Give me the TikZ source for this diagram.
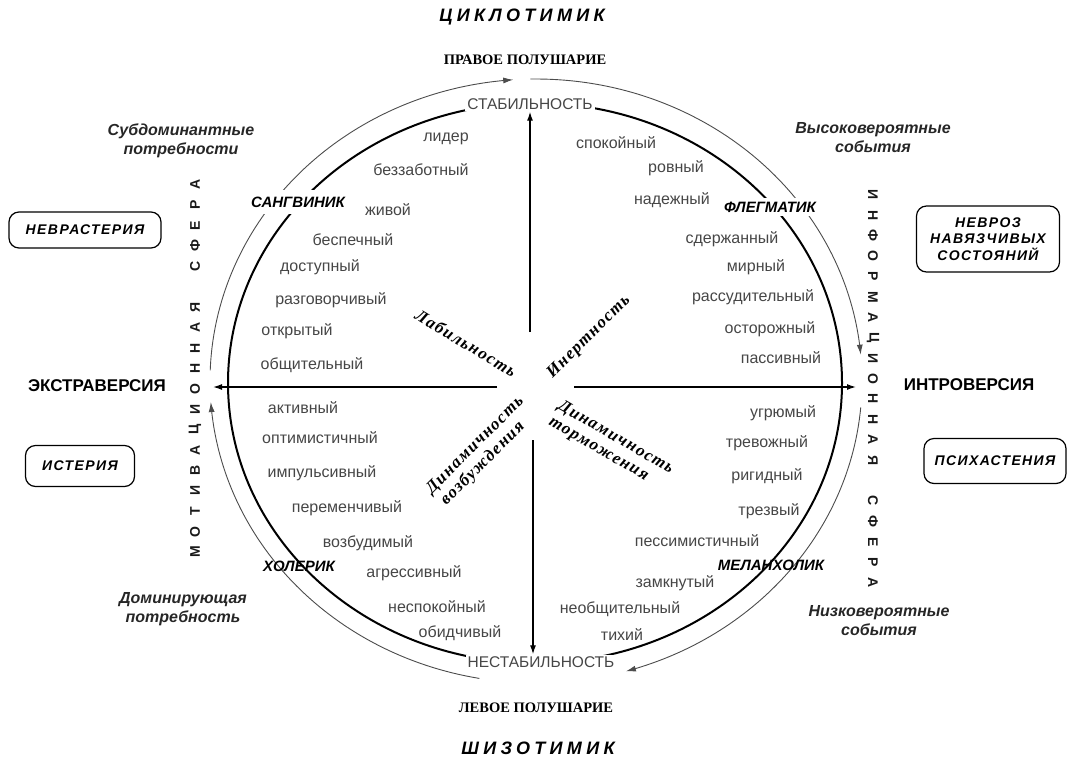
\documentclass[tikz,border=0pt]{standalone}
\usepackage{fontspec}
\setmainfont{Liberation Sans}
\newfontfamily\serifff{Liberation Serif}
\newfontfamily\serifsp[LetterSpace=8]{Liberation Serif}
\newfontfamily\widesp[LetterSpace=24]{Liberation Sans}
\newfontfamily\boxsp[LetterSpace=10]{Liberation Sans}
\usetikzlibrary{arrows.meta}
\definecolor{wordgray}{RGB}{70,70,70}
\begin{document}
\begin{tikzpicture}[x=1pt,y=-1pt,
  word/.style={font=\fontsize{16}{18}\selectfont, text=wordgray, inner sep=1pt},
  typelbl/.style={font=\fontsize{15}{17}\selectfont\bfseries\itshape, inner sep=1pt},
  typew/.style={typelbl, fill=white, inner xsep=2pt},
  axlbl/.style={font=\fontsize{17}{19}\selectfont\bfseries},
  dbox/.style={draw, rounded corners=10pt, line width=1.2pt, align=center,
     font=\fontsize{14}{16.5}\selectfont\boxsp\bfseries\itshape},
  notelbl/.style={font=\fontsize{16}{19}\selectfont\bfseries\itshape, align=center, text=black!85},
  diaglbl/.style={font=\fontsize{17}{19.5}\selectfont\serifsp\bfseries\itshape, inner sep=0pt, align=left},
  statelbl/.style={fill=white, text=wordgray, font=\fontsize{15.5}{17}\selectfont, inner sep=2pt},
  biglbl/.style={font=\fontsize{18}{20}\selectfont\widesp\bfseries\itshape},
  hemilbl/.style={font=\fontsize{14.5}{16}\selectfont\serifff\bfseries},
  vlet/.style={font=\fontsize{14}{16}\selectfont\bfseries, text=black!90, inner sep=0pt},
  axarrow/.style={-{Latex[length=9pt,width=6pt]}, line width=1.3pt},
  outerarc/.style={-{Latex[length=10pt,width=6pt]}, line width=0.9pt, draw=black!70},
  innerell/.style={line width=2pt}
]
\useasboundingbox (0,0) rectangle (1068,758);

% outer arcs (clockwise)
\draw[outerarc] plot[domain=178:94, samples=60, smooth] ({536+326*cos(\x)}, {381-302*sin(\x)});
\draw[outerarc] plot[domain=91:5, samples=60, smooth] ({536+326*cos(\x)}, {381-302*sin(\x)});
\draw[outerarc] plot[domain=-5:-74, samples=60, smooth] ({536+326*cos(\x)}, {381-302*sin(\x)});
\draw[outerarc] plot[domain=-100:-176, samples=60, smooth] ({536+326*cos(\x)}, {381-302*sin(\x)});

% inner ellipse
\draw[innerell] (535,383) ellipse [x radius=307pt, y radius=280pt];

% labels that interrupt the circles
\node[statelbl] (stab) at (530,104) {СТАБИЛЬНОСТЬ};
\node[statelbl] (nestab) at (541,662) {НЕСТАБИЛЬНОСТЬ};
\node[typew, inner ysep=7pt] (sang) at (298,202) {САНГВИНИК};
\node[typew, inner ysep=4pt] (fleg) at (770,207) {ФЛЕГМАТИК};
\node[typelbl] (khol) at (299,566) {ХОЛЕРИК};
\node[typelbl] (mel) at (771,565) {МЕЛАНХОЛИК};

% axes
\coordinate (cU) at (530,332);
\coordinate (cD) at (533,440);
\coordinate (cL) at (497,387);
\coordinate (cR) at (574,387);
\coordinate (tipL) at (213,387);
\coordinate (tipR) at (856,387);
\draw[axarrow] (cU) -- (cU |- stab.south);
\draw[axarrow] (cD) -- (cD |- nestab.north);
\draw[axarrow] (cL) -- (tipL);
\draw[axarrow] (cR) -- (tipR);

% diagonal labels
\node[diaglbl, rotate=-31] (lab) at (466,343) {Лабильность};
\node[diaglbl, rotate=45] (inert) at (589,337) {Инертность};
\node[diaglbl, rotate=45] (dvoz) at (482,452) {Динамичность\\[-1pt]\hspace*{2pt}возбуждения};
\node[diaglbl, rotate=-30] (dtor) at (611,446) {Динамичность\\[-1pt]торможения};

% upper left words
\node[word] (a1) at (446,139) {лидер};
\node[word] (a2) at (421,170) {беззаботный};
\node[word] (a3) at (388,210) {живой};
\node[word] (a4) at (353,240) {беспечный};
\node[word] (a5) at (320,267) {доступный};
\node[word] (a6) at (331,300) {разговорчивый};
\node[word] (a7) at (297,331) {открытый};
\node[word] (a8) at (312,365) {общительный};
% upper right words
\node[word] (b1) at (616,143) {спокойный};
\node[word] (b2) at (676,168) {ровный};
\node[word] (b3) at (672,200) {надежный};
\node[word] (b4) at (732,239) {сдержанный};
\node[word] (b5) at (756,267) {мирный};
\node[word] (b6) at (753,297) {рассудительный};
\node[word] (b7) at (770,329) {осторожный};
\node[word] (b8) at (781,358) {пассивный};
% lower left words
\node[word] (c1) at (303,408) {активный};
\node[word] (c2) at (320,438) {оптимистичный};
\node[word] (c3) at (322,473) {импульсивный};
\node[word] (c4) at (347,508) {переменчивый};
\node[word] (c5) at (368,543) {возбудимый};
\node[word] (c6) at (414,573) {агрессивный};
\node[word] (c7) at (437,607) {неспокойный};
\node[word] (c8) at (460,633) {обидчивый};
% lower right words
\node[word] (d1) at (783,413) {угрюмый};
\node[word] (d2) at (767,443) {тревожный};
\node[word] (d3) at (767,476) {ригидный};
\node[word] (d4) at (769,511) {трезвый};
\node[word] (d5) at (697,541) {пессимистичный};
\node[word] (d6) at (675,583) {замкнутый};
\node[word] (d7) at (620,609) {необщительный};
\node[word] (d8) at (622,635) {тихий};

% top / bottom
\node[biglbl] (cyc) at (522,17) {ЦИКЛОТИМИК};
\node[hemilbl] (rhem) at (525,60) {ПРАВОЕ ПОЛУШАРИЕ};
\node[hemilbl] (lhem) at (536,708) {ЛЕВОЕ ПОЛУШАРИЕ};
\node[biglbl] (shiz) at (538,748) {ШИЗОТИМИК};

% side notes
\node[notelbl] (subd) at (181,141) {Субдоминантные\\потребности};
\node[notelbl] (vys) at (873,138) {Высоковероятные\\события};
\node[notelbl] (dom) at (183,609) {Доминирующая\\потребность};
\node[notelbl] (niz) at (879,621) {Низковероятные\\события};

% axis labels
\node[axlbl] (extra) at (97,386) {ЭКСТРАВЕРСИЯ};
\node[axlbl] (intro) at (969,385) {ИНТРОВЕРСИЯ};

% boxes
\node[dbox, minimum width=152pt, minimum height=36pt] (nevr) at (85,230) {НЕВРАСТЕРИЯ};
\node[dbox, minimum width=143pt, minimum height=66pt] (nevroz) at (988,239) {НЕВРОЗ\\НАВЯЗЧИВЫХ\\СОСТОЯНИЙ};
\node[dbox, minimum width=109pt, minimum height=41pt] (ister) at (80,466) {ИСТЕРИЯ};
\node[dbox, minimum width=142pt, minimum height=45pt] (psih) at (995,461) {ПСИХАСТЕНИЯ};

% vertical letter columns
\foreach \ch [count=\i from 0] in {М,О,Т,И,В,А,Ц,И,О,Н,Н,А,Я,{},С,Ф,Е,Р,А}
  \node[vlet, rotate=90] (m\i) at (195, 552-20.4*\i) {\ch};
\foreach \ch [count=\i from 0] in {И,Н,Ф,О,Р,М,А,Ц,И,О,Н,Н,А,Я,{},С,Ф,Е,Р,А}
  \node[vlet, rotate=-90] (n\i) at (873, 195+20.4*\i) {\ch};
\end{tikzpicture}
\end{document}
